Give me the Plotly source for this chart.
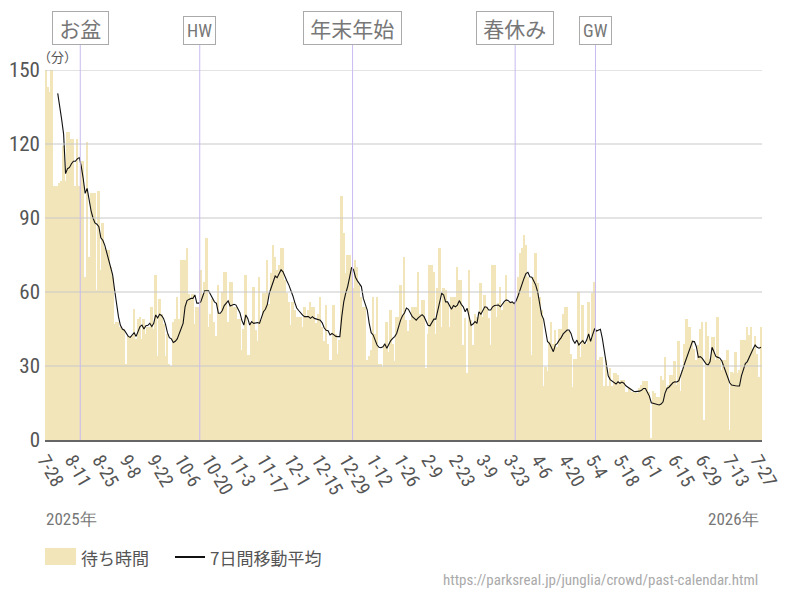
import numpy as np
import pandas as pd
import plotly.graph_objects as go

# ---------------- data ----------------
start_date = "2025-07-28"

wait_times = [
    150, 143, 141, 150, 103, 103, 103, 104, 105, 119,
    105, 125, 125, 122, 122, 103, 122, 103, 113, 113,
    66, 121, 74, 100, 100, 100, 61, 101, 69, 88,
    78, 77, 77, 70, 66, 47, 48, 48, 46, 45,
    45, 31, 42, 42, 42, 53, 41, 49, 50, 41,
    49, 43, 46, 46, 54, 45, 67, 34, 57, 51,
    47, 34, 43, 31, 30, 48, 49, 58, 49, 73,
    73, 73, 78, 59, 57, 59, 47, 54, 54, 69,
    59, 64, 82, 46, 51, 57, 48, 42, 63, 51,
    60,
    68, 68, 48, 64, 64, 54, 54, 49, 49, 36.5,
    45, 67, 34.5, 34.5, 48, 62, 44.6, 40, 66, 48.6,
    59.5, 59.5, 73, 55, 67.6, 79, 74.3, 69, 71, 78,
    78, 65, 59.5, 56, 46.6, 56, 52.7, 50, 50, 50,
    46, 54, 50, 52.7, 56, 54, 54, 47.3, 51, 58,
    46, 40, 54.7, 39, 32.4, 32.4, 54.7, 43, 35, 40.5,
    99, 84, 67.6, 75, 75, 70, 61.5, 73, 70, 63,
    58, 54, 54, 32.4, 34, 36.5, 58, 43, 58, 31,
    31, 29.7, 39, 48, 35.8, 52.7, 39, 32, 50, 50,
    63, 50.7,
    74, 48.6, 44, 48.6, 54, 54, 54, 68, 51, 56.8,
    56.8, 29, 43, 71, 71, 68, 43, 61.5, 78, 46,
    61.5, 60.8, 55.4, 46, 58, 58, 58, 70, 65, 65,
    38.5, 49.3, 27, 69, 48.6, 38.5, 51, 50, 50, 63.8,
    50, 58.8, 54, 49.3, 38.5, 71, 71, 50, 55.4, 61.9,
    52.7, 55.4, 66.9, 56, 56, 56, 55.4, 56.8, 66.2, 76,
    77.7, 83, 79, 66, 58, 34.5, 66, 76, 63.5, 58,
    52.7, 22, 29.7, 28, 40, 48, 39, 44.6, 37.8, 45,
    45, 51, 54, 54, 44, 35, 21.6, 33, 33, 60,
    33.8, 54.7,
    39, 39, 56, 40, 59.5, 64, 45, 32.4, 33.8, 33.8,
    22, 32.4, 22, 29, 22, 27, 27, 26.4, 23.6, 24.3,
    24.3, 19.6, 19.6, 21, 19.6, 19.6, 19, 19, 21, 22.3,
    24, 24, 24, 19.6, 0.7, 20, 19, 17.6, 17.6, 26,
    24.3, 33.8, 21.6, 22.3, 26.4, 26.4, 32, 22.3, 40, 20,
    28.4, 39, 49, 46, 46, 40.5, 37, 32.4, 38.5, 45,
    48, 8, 48, 42, 33, 41.6, 41.6, 32.4, 50, 32.4,
    28.4, 32.4, 32.4, 36.5, 4, 27.7, 27, 35.8, 27, 28.4,
    40.5, 40.5, 40.5, 46, 42.6, 46, 37, 42, 35, 25.7,
    46,
]

moving_avg = [
    None, None, None, None, None, None, 140.5, 134, 130, 124,
    108, 110, 110.5, 112, 113, 113, 114, 114.5, 111, 106,
    100, 102, 97, 93, 90, 88, 87.5, 86.5, 82, 81,
    79, 76, 73, 70, 67, 61, 55, 50, 46.5, 45,
    44.5, 43, 42, 41.6, 42.5, 43.5, 42, 44.5, 46, 46.6,
    45, 46.3, 46.5, 47.3, 46, 47.3, 50.7, 49.5, 51, 50.5,
    49.3, 47, 43.5, 41.5, 41, 39.5, 40, 41, 43, 45,
    47.3, 54, 56.5, 57, 57.4, 57.4, 58.8, 55.5, 55.5, 56,
    58, 60.5, 60.5, 60.5, 59, 57.5, 56, 55.4, 51.4, 51.4,
    52.5,
    54.5, 55.4, 56.4, 54.3, 54.5, 55, 54.7, 53, 51.6, 48.5,
    46.6, 50.7, 49.3, 46.6, 48, 47.3, 47.5, 47.6, 47.3, 49.5,
    52, 53, 55, 59.5, 62, 64.5, 66.5, 65.8, 67.5, 69,
    68.2, 66, 64.5, 62.8, 60.8, 58.5, 55.8, 53.5, 52.5, 51.4,
    50.6, 50, 50, 50, 49.3, 50, 49.3, 49, 48.9, 48.6,
    47.5, 45.5, 44.5, 44.3, 42.6, 43.2, 42.6, 42, 41.9, 41.9,
    50, 56, 59.5, 62.2, 66, 70, 69, 66, 64.5, 63.5,
    62.2, 57.4, 54.5, 52.7, 47.3, 43.5, 42.6, 40.5, 38.5, 37.6,
    37.4, 37.8, 38.9, 37.2, 38.9, 40.3, 41.2, 41.9, 43.2, 46,
    48.6, 50.4,
    51.5, 53.5, 53, 51.5, 50, 49.3, 48.6, 49.5, 50.2, 50.8,
    50, 48, 46.5, 46.3, 47.5, 49, 49, 53, 57, 59.5,
    58.8, 56, 56, 54.5, 53, 54.5, 54, 54.7, 56.5, 55,
    54, 52, 53.4, 50, 46.5, 47, 48, 47.3, 52, 51,
    52.5, 54, 53.8, 52.7, 52.7, 54, 54.5, 54.7, 54.7, 54,
    55.4, 56.2, 56.8, 56.5, 55.7, 56, 55.3, 56.5, 58.5, 61,
    63.5, 65.5, 67.5, 68, 66.2, 66, 64.5, 62.8, 60, 55.5,
    50.7, 49, 44.6, 39.9, 39.2, 37.8, 35.8, 38.5, 39.2, 40.5,
    41.5, 43, 44, 44.6, 44.6, 43.2, 40.5, 39.2, 40.5, 38.5,
    39.5, 40.3,
    39, 40.5, 43, 40, 42.6, 45, 44.2, 44.6, 44.9, 41.2,
    36.5, 31.1, 26, 24.5, 24, 23.2, 22.7, 23.6, 23, 23.5,
    23, 22, 21.4, 20.9, 20.3, 19.8, 19.6, 19.6, 19.8, 20.2,
    20.9, 20.9, 19.2, 17.8, 15.1, 14.9, 14.7, 14.5, 14.2, 14.6,
    15.5, 19, 20.9, 21.4, 22.3, 23.2, 23.6, 23.5, 24, 26,
    28.5, 31, 33.5, 36, 38.5, 40, 39.9, 37.8, 33.5, 33.8,
    33.1, 32, 30.8, 30.4, 31.8, 37.6, 35.8, 33.8, 33.5, 33.2,
    32, 30, 28, 25.5, 23.2, 22.3, 22.3, 22, 21.9, 21.9,
    26, 29, 31, 31.8, 33.8, 35, 37, 38.5, 37.6, 37.2,
    37.6,
]

tick_dates = pd.date_range("2025-07-28", "2026-07-27", freq="14D")
tick_labels = [f"{d.month}-{d.day}" for d in tick_dates]

y_ticks = [0, 30, 60, 90, 120, 150]

event_names = ["お盆", "HW", "年末年始", "春休み", "GW"]
event_dates = ["2025-08-15", "2025-10-15", "2026-01-01", "2026-03-25", "2026-05-05"]

series_names = ["待ち時間", "7日間移動平均"]
year_labels = ["2025年", "2026年"]
source_url = "https://parksreal.jp/junglia/crowd/past-calendar.html"

# ---------------- styling ----------------
BAR_COLOR = "rgb(242,229,186)"
EVENT_COLOR = "#c9baf0"
GRID_COLOR = "#c8c8c8"
TEXT_COLOR = "#555555"
LATIN = "Roboto Condensed, Liberation Sans Narrow, Roboto, sans-serif"
CJK = "Noto Sans CJK JP, sans-serif"

W, H = 800, 600
L, R, T, B = 45, 38, 70, 160
PW, PH = W - L - R, H - T - B


def px_x(px):
    return (px - L) / PW


def px_y(py):
    return (H - B - py) / PH


n = len(wait_times)
dates = pd.date_range(start_date, periods=n, freq="D") + pd.Timedelta(hours=12)
ma_dates = dates[: len(moving_avg)]

fig = go.Figure()
fig.add_trace(go.Bar(
    x=dates, y=wait_times, width=86400000,
    marker=dict(color=BAR_COLOR, line=dict(width=0)),
    name=series_names[0], showlegend=False,
))
fig.add_trace(go.Scatter(
    x=ma_dates, y=moving_avg, mode="lines",
    line=dict(color="#111111", width=1.1),
    name=series_names[1], showlegend=False, connectgaps=False,
))

shapes = []
annotations = []

# horizontal grid lines drawn over the bars
for v in y_ticks[1:]:
    shapes.append(dict(type="line", xref="paper", yref="y", x0=0, x1=1,
                       y0=v, y1=v, line=dict(color=GRID_COLOR, width=1),
                       layer="above"))

for name, d in zip(event_names, event_dates):
    shapes.append(dict(type="line", xref="x", yref="paper", x0=d, x1=d,
                       y0=0, y1=px_y(45), line=dict(color=EVENT_COLOR, width=1),
                       layer="above"))
    latin = name in ("HW", "GW")
    annotations.append(dict(
        x=d, xref="x", y=px_y(45), yref="paper", yanchor="bottom",
        xanchor="center", text=name if latin else "\u2005" + name + "\u2005",
        showarrow=False,
        font=dict(family=LATIN if latin else CJK, size=18 if latin else 21,
                  color="#777777"),
        bordercolor="#aaaaaa", borderwidth=1, borderpad=3 if latin else 1,
        bgcolor="white",
    ))

# unit label
annotations.append(dict(x=px_x(36), y=px_y(57), xref="paper", yref="paper",
                        xanchor="left", yanchor="middle", text="（分）",
                        showarrow=False, font=dict(family=CJK, size=13, color=TEXT_COLOR)))
# year labels
annotations.append(dict(x=px_x(44), y=px_y(519), xref="paper", yref="paper",
                        xanchor="left", yanchor="middle", text=year_labels[0],
                        showarrow=False, font=dict(family=LATIN, size=17, color="#777777")))
annotations.append(dict(x=px_x(761), y=px_y(519), xref="paper", yref="paper",
                        xanchor="right", yanchor="middle", text=year_labels[1],
                        showarrow=False, font=dict(family=LATIN, size=17, color="#777777")))
# legend (manual)
shapes.append(dict(type="rect", xref="paper", yref="paper",
                   x0=px_x(45), x1=px_x(76), y0=px_y(565), y1=px_y(548),
                   fillcolor=BAR_COLOR, line=dict(width=0)))
annotations.append(dict(x=px_x(79), y=px_y(557), xref="paper", yref="paper",
                        xanchor="left", yanchor="middle", text=series_names[0],
                        showarrow=False, font=dict(family=CJK, size=17, color=TEXT_COLOR)))
shapes.append(dict(type="line", xref="paper", yref="paper",
                   x0=px_x(175), x1=px_x(205), y0=px_y(557), y1=px_y(557),
                   line=dict(color="#111111", width=2)))
annotations.append(dict(x=px_x(208), y=px_y(557), xref="paper", yref="paper",
                        xanchor="left", yanchor="middle", text=series_names[1],
                        showarrow=False, font=dict(family=CJK, size=17, color=TEXT_COLOR)))
# source
annotations.append(dict(x=px_x(760), y=px_y(580), xref="paper", yref="paper",
                        xanchor="right", yanchor="middle", text=source_url,
                        showarrow=False, font=dict(family=LATIN, size=15, color="#aaaaaa")))

fig.update_layout(
    width=W, height=H,
    margin=dict(l=L, r=R, t=T, b=B, pad=0, autoexpand=False),
    paper_bgcolor="white", plot_bgcolor="white",
    bargap=0, showlegend=False,
    shapes=shapes, annotations=annotations,
    font=dict(family=LATIN, color=TEXT_COLOR),
    xaxis=dict(
        type="date", range=["2025-07-28", "2026-07-29"],
        tickvals=tick_dates, ticktext=tick_labels, tickangle=60,
        tickfont=dict(family=LATIN, size=19, color=TEXT_COLOR),
        showgrid=False, zeroline=False, showline=True, automargin=False,
        linecolor="#666666", linewidth=1.5, ticks="",
    ),
    yaxis=dict(
        range=[0, 150], tickvals=y_ticks, ticktext=[str(v) for v in y_ticks],
        tickfont=dict(family=LATIN, size=21, color=TEXT_COLOR),
        ticklabelstandoff=4, automargin=False,
        showgrid=False, zeroline=False, showline=False, ticks="",
    ),
)

fig.write_html("out.html")
